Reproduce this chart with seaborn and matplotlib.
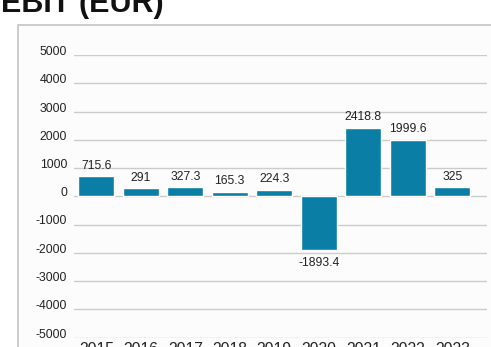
import matplotlib
matplotlib.use("Agg")
import matplotlib.pyplot as plt
import matplotlib.patches as patches
import pandas as pd
import seaborn as sns

# ---------------- data -----------------
years = ["2015", "2016", "2017", "2018", "2019", "2020", "2021", "2022", "2023"]
ebit = [715.6, 291, 327.3, 165.3, 224.3, -1893.4, 2418.8, 1999.6, 325]
yticks = [5000, 4000, 3000, 2000, 1000, 0, -1000, -2000, -3000, -4000, -5000]

df = pd.DataFrame({"year": years, "ebit": ebit})

sns.set_style("white")
plt.rcParams["font.family"] = ["Liberation Sans", "DejaVu Sans"]

fig = plt.figure(figsize=(4.91, 3.47), dpi=100)
fig.patch.set_facecolor("white")

# light panel behind the chart
panel = patches.Rectangle((18 / 491, -0.1), 1.0, (347 - 25) / 347 + 0.1,
                          transform=fig.transFigure, facecolor="#fcfcfc",
                          edgecolor="#c4c4c4", linewidth=1.2, zorder=-10)
fig.patches.append(panel)

ax = fig.add_axes([74 / 491, 9.5 / 347, 413 / 491, (337.5 - 55) / 347])
ax.patch.set_alpha(0)

sns.barplot(data=df, x="year", y="ebit", color="#0b7ea5", saturation=1,
            width=0.8, ax=ax, zorder=3)

for i, v in enumerate(ebit):                      # value labels above / below bars
    label = f"{v:g}"
    if v >= 0:
        ax.annotate(label, (i, v), xytext=(0, 3.2), textcoords="offset points",
                    ha="center", va="bottom", fontsize=8.7, color="#222222")
    else:
        ax.annotate(label, (i, v), xytext=(0, -5), textcoords="offset points",
                    ha="center", va="top", fontsize=8.7, color="#222222")

ax.set_xlim(-0.5, 8.78)
ax.set_ylim(-5000, 5000)
ax.set_yticks(yticks)
ax.set_yticklabels([str(t) for t in yticks])
ax.yaxis.grid(True, color="#cccccc", linewidth=1.0, zorder=0)
ax.set_axisbelow(True)
ax.tick_params(axis="both", length=0, labelcolor="#222222")
ax.tick_params(axis="y", pad=5, labelsize=8.8)
ax.tick_params(axis="x", pad=3, labelsize=11.3)
for t in ax.get_yticklabels():
    t.set_va("baseline")
ax.set_xlabel("")
ax.set_ylabel("")
for s in ax.spines.values():
    s.set_visible(False)

fig.text(0.002, (347 - 12) / 347, "EBIT (EUR)", fontsize=22, fontweight="bold",
         va="baseline", ha="left", color="#111111")

fig.savefig("out.png", dpi=100)
